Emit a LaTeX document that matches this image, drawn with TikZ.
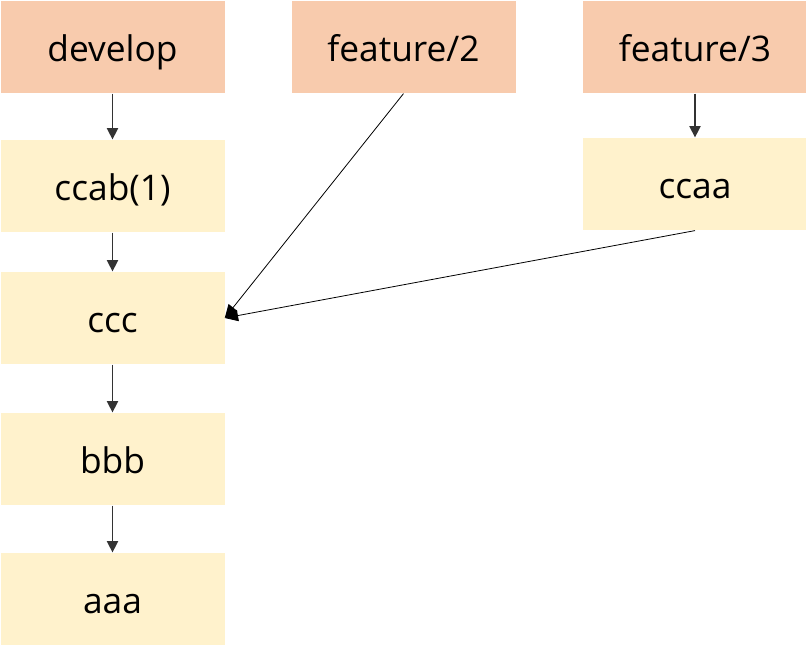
\documentclass[tikz,border=0pt]{standalone}
\usepackage{fontspec}
\setmainfont{Open Sans}
\usetikzlibrary{arrows.meta}
\definecolor{brpeach}{HTML}{F8CBAD}
\definecolor{cmtyellow}{HTML}{FFF2CC}
\begin{document}
\begin{tikzpicture}[x=0.75pt,y=-0.75pt,branche/.style={fill=brpeach,minimum width=168pt,minimum height=69.5pt,inner sep=0pt,text height=22pt,text depth=0pt,font=\fontsize{26.5}{30}\selectfont},commit/.style={branche,fill=cmtyellow},lien/.style={draw=black!80,line width=0.8pt,-{Triangle[length=8.5pt,width=8.5pt]}},fusion/.style={draw=black,line width=0.6pt,-{Triangle[length=10pt,width=8.5pt]}}]
\useasboundingbox (0,0) rectangle (806,645);
\node[branche] (develop) at (112.5,47) {develop};
\node[branche] (feat2) at (403.5,47) {feature/2};
\node[branche] (feat3) at (695,47) {feature/3};
\node[commit] (ccab) at (112.5,186) {ccab(1)};
\node[commit] (ccaa) at (695,184) {ccaa};
\node[commit] (ccc) at (112.5,318) {ccc};
\node[commit] (bbb) at (112.5,459) {bbb};
\node[commit] (aaa) at (112.5,599) {aaa};
\draw[lien] (develop)--(ccab);
\draw[lien] (ccab)--(ccc);
\draw[lien] (ccc)--(bbb);
\draw[lien] (bbb)--(aaa);
\draw[lien] (feat3)--(ccaa);
\draw[fusion] (feat2.south)--(ccc.east);
\draw[fusion] (ccaa.south)--(ccc.east);
\end{tikzpicture}
\end{document}
